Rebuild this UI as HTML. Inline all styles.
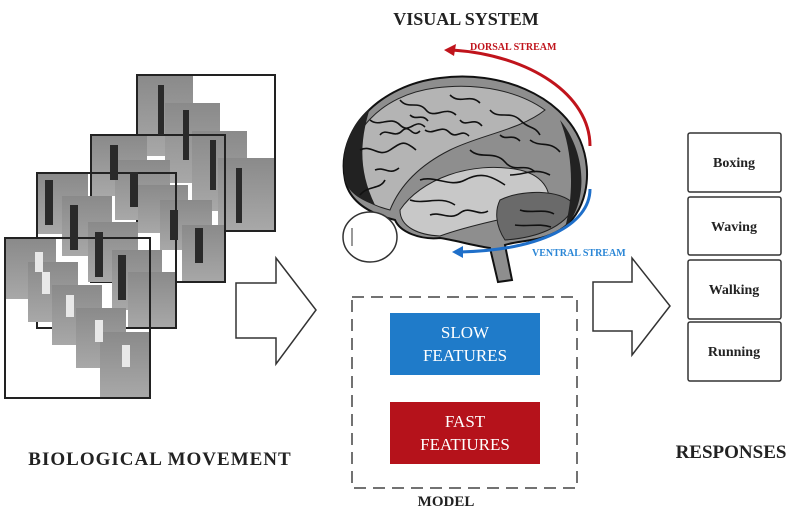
<!DOCTYPE html>
<html><head><meta charset="utf-8"><style>
html,body{margin:0;padding:0;background:#fff;}
body{width:798px;height:518px;overflow:hidden;position:relative;font-family:"Liberation Serif",serif;}
</style></head><body>
<svg width="798" height="518" viewBox="0 0 798 518" xmlns="http://www.w3.org/2000/svg" style="position:absolute;left:0;top:0">
<defs>
<linearGradient id="g1" x1="0" y1="0" x2="0" y2="1"><stop offset="0" stop-color="#8a8a8a"/><stop offset="1" stop-color="#a8a8a8"/></linearGradient>
</defs>
<!-- Frame A standing -->
<g fill="url(#g1)">
<rect x="138" y="76" width="55" height="80"/>
<rect x="165" y="103" width="55" height="80"/>
<rect x="192" y="131" width="55" height="80"/>
<rect x="218" y="158" width="56" height="72"/>
</g>
<rect x="137" y="75" width="138" height="156" fill="none" stroke="#222" stroke-width="2"/>
<!-- Frame B waving -->
<g fill="url(#g1)">
<rect x="92" y="136" width="55" height="60"/>
<rect x="115" y="160" width="55" height="60"/>
<rect x="138" y="185" width="50" height="48"/>
<rect x="160" y="200" width="52" height="50"/>
<rect x="182" y="225" width="44" height="58"/>
</g>
<rect x="91" y="135" width="134" height="147" fill="none" stroke="#222" stroke-width="2"/>
<!-- Frame C walking -->
<g fill="url(#g1)">
<rect x="38" y="174" width="50" height="60"/>
<rect x="62" y="196" width="50" height="60"/>
<rect x="88" y="222" width="50" height="60"/>
<rect x="112" y="250" width="50" height="60"/>
<rect x="128" y="272" width="48" height="56"/>
</g>
<rect x="37" y="173" width="139" height="155" fill="none" stroke="#222" stroke-width="2"/>
<!-- Frame D running -->
<g fill="url(#g1)">
<rect x="6" y="239" width="50" height="60"/>
<rect x="28" y="262" width="50" height="60"/>
<rect x="52" y="285" width="50" height="60"/>
<rect x="76" y="308" width="50" height="60"/>
<rect x="100" y="332" width="49" height="65"/>
</g>
<rect x="5" y="238" width="145" height="160" fill="none" stroke="#222" stroke-width="2"/>
<g fill="#2a2a2a">
<rect x="158" y="85" width="6" height="50"/><rect x="183" y="110" width="6" height="50"/><rect x="210" y="140" width="6" height="50"/><rect x="236" y="168" width="6" height="55"/>
<rect x="110" y="145" width="8" height="35"/><rect x="130" y="172" width="8" height="35"/><rect x="170" y="210" width="8" height="30"/><rect x="195" y="228" width="8" height="35"/>
<rect x="45" y="180" width="8" height="45"/><rect x="70" y="205" width="8" height="45"/><rect x="95" y="232" width="8" height="45"/><rect x="118" y="255" width="8" height="45"/>
</g>
<g fill="#e8e8e8"><rect x="35" y="252" width="8" height="20"/><rect x="42" y="272" width="8" height="22"/><rect x="66" y="295" width="8" height="22"/><rect x="95" y="320" width="8" height="22"/><rect x="122" y="345" width="8" height="22"/></g>
<!-- big arrows -->
<path d="M236 283 H276 V258 L316 310 L276 364 V338 H236 Z" fill="#fff" stroke="#333" stroke-width="1.5"/>
<path d="M593 282 H632 V258 L670 306 L632 355 V331 H593 Z" fill="#fff" stroke="#333" stroke-width="1.5"/>
<!-- brain -->
<path d="M345 180 C335 130 380 85 440 78 C500 70 560 95 580 140 C595 175 585 215 560 230 C540 242 520 240 505 245 L512 280 L498 282 L490 248 C470 245 455 240 440 238 C420 240 400 232 395 220 C375 215 350 205 345 180 Z" fill="#8e8e8e" stroke="#111" stroke-width="2"/>
<path d="M350 175 C345 135 380 95 435 88 C480 82 520 92 545 110 C520 130 480 135 450 150 C420 165 400 185 390 210 C370 205 352 195 350 175 Z" fill="#b4b4b4" stroke="#222" stroke-width="1"/>
<path d="M400 210 C420 180 470 160 520 170 C545 176 555 195 545 210 C520 215 470 225 440 236 C420 235 400 228 400 210 Z" fill="#c8c8c8" stroke="#222" stroke-width="1"/>
<path d="M500 200 C520 190 560 188 575 205 C565 228 535 238 505 240 C495 225 495 210 500 200 Z" fill="#6a6a6a" stroke="#222" stroke-width="1"/>
<path d="M345 180 C340 150 350 125 370 108 C360 140 358 170 375 205 C360 200 348 192 345 180 Z" fill="#222"/>
<path d="M560 120 C585 150 590 200 565 228 C575 190 572 150 560 120 Z" fill="#222"/>
<g fill="none" stroke="#111" stroke-width="1.6">
<path d="M370 120 c10 8 20 -5 30 5 s15 -8 25 2"/><path d="M360 150 c12 -6 18 8 30 0 s14 -10 26 0"/><path d="M400 100 c8 10 18 0 26 10 s20 -5 30 5"/><path d="M450 95 c10 10 20 -2 30 8"/><path d="M490 110 c8 10 20 0 30 10 s14 5 20 15"/><path d="M420 180 c15 -5 30 8 45 0 s25 -5 40 5"/><path d="M410 200 c15 5 30 -5 45 5"/><path d="M470 150 c10 10 25 0 35 12 s20 0 30 10"/><path d="M530 140 c10 8 20 0 30 12"/><path d="M360 195 c8 -10 20 -5 25 -15"/><path d="M510 175 c15 0 25 -8 40 0"/>
<path d="M380 135 c6 -8 14 4 22 -4 s10 8 18 0"/><path d="M425 130 c8 6 16 -6 24 2 s12 -4 20 4"/><path d="M375 170 c10 -4 14 6 24 -2"/><path d="M410 115 c6 6 12 -2 18 6"/><path d="M460 120 c6 8 14 -4 22 6"/><path d="M500 135 c6 6 12 -2 20 6"/><path d="M430 215 c10 -4 20 6 30 -2 s18 4 28 -2"/><path d="M520 210 c10 4 24 -2 34 4"/><path d="M515 225 c12 2 24 -2 36 2"/>
</g>
<ellipse cx="370" cy="237" rx="27" ry="25" fill="#fff" stroke="#333" stroke-width="1.5"/>
<line x1="352" y1="228" x2="352" y2="246" stroke="#333" stroke-width="1"/>
<!-- streams -->
<path d="M590 146 C590 95 530 55 452 50" fill="none" stroke="#c0141c" stroke-width="3"/>
<path d="M444 50 L456 44 L454 56 Z" fill="#c0141c"/>
<path d="M590 189 C590 225 540 250 460 252" fill="none" stroke="#1f6fc9" stroke-width="3"/>
<path d="M452 252 L463 246 L463 258 Z" fill="#1f6fc9"/>
<text x="470" y="50" font-family="Liberation Serif,serif" font-weight="bold" font-size="10" fill="#c0141c">DORSAL STREAM</text>
<text x="532" y="256" font-family="Liberation Serif,serif" font-weight="bold" font-size="10" fill="#2a86d6">VENTRAL STREAM</text>
<text x="466" y="25" text-anchor="middle" font-family="Liberation Serif,serif" font-weight="bold" font-size="18" fill="#222">VISUAL SYSTEM</text>
<!-- model -->
<rect x="352" y="297" width="225" height="191" fill="none" stroke="#444" stroke-width="1.5" stroke-dasharray="12,7"/>
<rect x="390" y="313" width="150" height="62" fill="#1f7bc9"/>
<text x="465" y="338" text-anchor="middle" font-family="Liberation Serif,serif" font-size="17" fill="#fff">SLOW</text>
<text x="465" y="361" text-anchor="middle" font-family="Liberation Serif,serif" font-size="17" fill="#fff">FEATURES</text>
<rect x="390" y="402" width="150" height="62" fill="#b5121b"/>
<text x="465" y="427" text-anchor="middle" font-family="Liberation Serif,serif" font-size="17" fill="#fff">FAST</text>
<text x="465" y="450" text-anchor="middle" font-family="Liberation Serif,serif" font-size="17" fill="#fff">FEATIURES</text>
<text x="446" y="506" text-anchor="middle" font-family="Liberation Serif,serif" font-weight="bold" font-size="15" fill="#222">MODEL</text>
<!-- responses -->
<g fill="#fff" stroke="#333" stroke-width="1.5">
<rect x="688" y="133" width="93" height="59" rx="2"/>
<rect x="688" y="197" width="93" height="58" rx="2"/>
<rect x="688" y="260" width="93" height="59" rx="2"/>
<rect x="688" y="322" width="93" height="59" rx="2"/>
</g>
<g font-family="Liberation Serif,serif" font-weight="bold" font-size="14" fill="#222" text-anchor="middle">
<text x="734" y="167">Boxing</text>
<text x="734" y="231">Waving</text>
<text x="734" y="294">Walking</text>
<text x="734" y="356">Running</text>
</g>
<text x="160" y="465" text-anchor="middle" font-family="Liberation Serif,serif" font-weight="bold" font-size="19" letter-spacing="1" fill="#222">BIOLOGICAL MOVEMENT</text>
<text x="731" y="458" text-anchor="middle" font-family="Liberation Serif,serif" font-weight="bold" font-size="19" fill="#222">RESPONSES</text>
</svg>
</body></html>
